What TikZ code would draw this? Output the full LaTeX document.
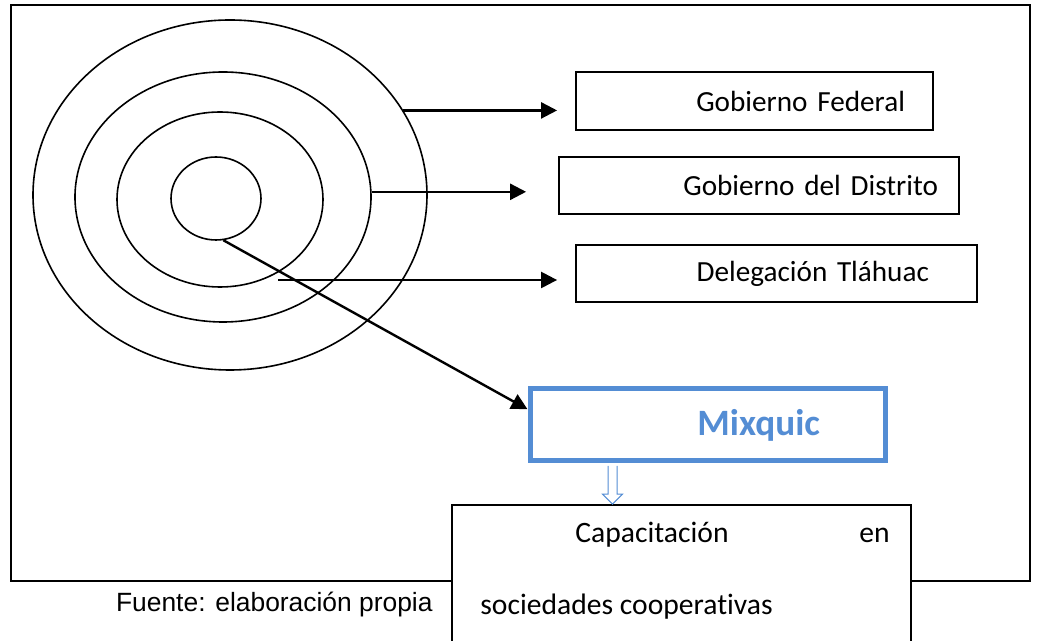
\documentclass[tikz,border=0pt]{standalone}
\usepackage{fontspec}
\setmainfont[Ligatures=NoCommon]{Carlito}
\newfontfamily\arialfont{Liberation Sans}
\usetikzlibrary{shapes.geometric,arrows.meta,positioning}
\definecolor{mixblue}{RGB}{84,141,212}
\tikzset{>={Triangle[length=8pt,width=8pt]}}

\begin{document}
\begin{tikzpicture}[
x=0.5pt, y=-0.5pt,
ring/.style={ellipse, draw=black, line width=0.8pt, inner sep=0pt},
levelbox/.style={rectangle, draw=black, line width=0.9pt, align=right, font=\fontsize{14.6}{17}\selectfont},
captext/.style={inner sep=0pt, font=\fontsize{14.8}{17}\selectfont},
link/.style={->, line width=1.2pt},
]
\useasboundingbox (0,0) rectangle (1041,641);
%Frame
\draw[line width=0.9pt] (11,5) rectangle (1030,581);

%Rings
\node[ring, minimum width=197pt, minimum height=175pt](outer) at (230,195) {};
\node[ring, minimum width=148pt, minimum height=125pt](mid) at (223,197) {};
\node[ring, minimum width=103pt, minimum height=87.5pt](third) at (220,199.5) {};
\node[ring, minimum width=45pt, minimum height=41.5pt](inner) at (216,198.5) {};

%Boxes
\node[levelbox, minimum height=29pt, text width=150.5pt, inner xsep=14pt](federal) at (754.5,101) {Gobierno Federal};
\node[levelbox, minimum height=28.5pt, text width=179pt, inner xsep=10.5pt](distrito) at (759,185.5) {Gobierno del Distrito};
\node[levelbox, minimum height=28.5pt, text width=152.5pt, inner xsep=24pt](tlahuac) at (776.5,273.5) {Delegación Tláhuac};
\node[levelbox, draw=mixblue, line width=2.5pt, minimum height=36pt, text width=112.5pt, inner xsep=32.5pt, text=mixblue, font=\fontsize{18.6}{22}\selectfont\bfseries](mixquic) at (707.5,425) {Mixquic};
\node[draw=black, fill=white, line width=0.9pt, minimum width=229.5pt, minimum height=90pt, inner sep=0pt](capbox) at (681.5,595) {};

%Texts
\node[captext, anchor=base west](capline) at (575,543) {Capacitación};
\node[captext, anchor=base east](enword) at (890,543) {en};
\node[captext, anchor=base west](socline) at (480,615) {sociedades cooperativas};
\node[anchor=base east, inner sep=0pt, font=\arialfont\fontsize{13.2}{16}\selectfont](fuente) at (433,612) {Fuente: elaboración propia};

%Lines
\coordinate (tail3) at (278,280);
\draw[link, shorten >=9pt] (outer.26) -- (outer.26 -| federal.west);
\draw[link, shorten >=16pt] (mid.2) -- (mid.2 -| distrito.west);
\draw[link, shorten >=9pt] (tail3) -- (tail3 -| tlahuac.west);
\draw[link] (inner.-80) -- (mixquic.175);

%Hollow arrow
\path ([shift={(-95,0)}]mixquic.south) coordinate (hs);
\coordinate (ht) at (hs |- capbox.north);
\draw[mixblue, line width=0.5pt, fill=white] ([xshift=-2.25pt,yshift=-1.25pt]hs) -- ([xshift=-2.25pt,yshift=5pt]ht) -- ([xshift=-5pt,yshift=5pt]ht) -- (ht) -- ([xshift=5pt,yshift=5pt]ht) -- ([xshift=2.25pt,yshift=5pt]ht) -- ([xshift=2.25pt,yshift=-1.25pt]hs);
\end{tikzpicture}
\end{document}
